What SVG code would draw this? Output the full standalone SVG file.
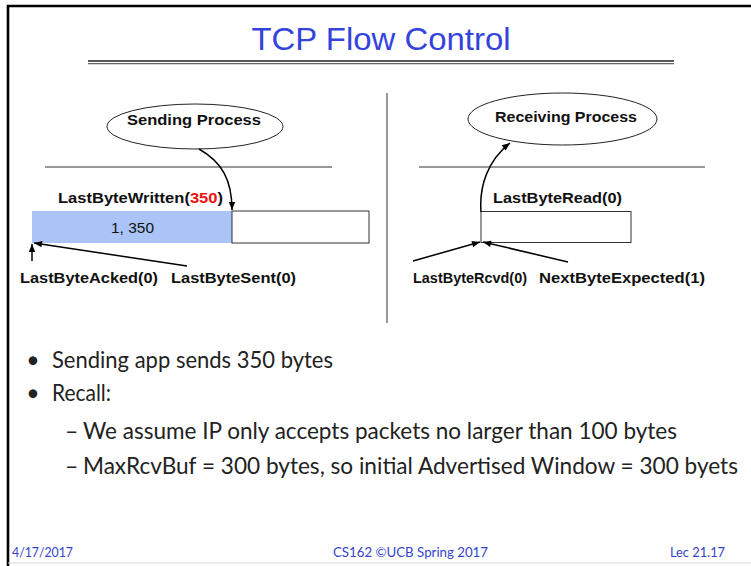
<svg xmlns="http://www.w3.org/2000/svg" width="751" height="566" viewBox="0 0 751 566">
  <defs>
    <marker id="ah" viewBox="0 0 10 10" refX="10" refY="5" markerWidth="9" markerHeight="8" orient="auto" markerUnits="userSpaceOnUse">
      <path d="M0,1 L10,5 L0,9 z" fill="#000"/>
    </marker>
    <style>
      .lbl { font-family: "Liberation Sans", Arial, sans-serif; font-weight: bold; font-size: 15px; fill: #111; }
      .proc { font-family: "Liberation Sans", Arial, sans-serif; font-weight: bold; font-size: 15px; fill: #111; text-anchor: middle; }
      .body { font-family: Lato, "Open Sans", sans-serif; font-size: 23px; fill: #222; }
      .foot { font-family: Lato, "Open Sans", sans-serif; font-size: 14px; fill: #3344cc; }
      .rule { stroke: #333; stroke-width: 1; fill: none; }
      .ell { fill: #fff; stroke: #222; stroke-width: 1; }
      .conn { stroke: #000; stroke-width: 1.5; fill: none; marker-end: url(#ah); }
    </style>
  </defs>

  <rect x="0" y="0" width="751" height="566" fill="#fff"/>
  <!-- slide frame -->
  <path d="M8,566 V6 H751" fill="none" stroke="#000" stroke-width="2.6"/>
  <line x1="8" y1="563" x2="751" y2="563" stroke="#d8d8d8" stroke-width="1"/>

  <g id="title">
    <text x="381" y="50" text-anchor="middle" font-family="Liberation Sans, Arial, sans-serif" font-size="32" fill="#3344dd" textLength="259" lengthAdjust="spacingAndGlyphs">TCP Flow Control</text>
    <line x1="88" y1="61" x2="674" y2="61" stroke="#222" stroke-width="1.6"/>
    <line x1="88" y1="63.6" x2="674" y2="63.6" stroke="#666" stroke-width="1.2"/>
  </g>

  <g id="divider">
    <line x1="387" y1="93" x2="387" y2="323" stroke="#333" stroke-width="1"/>
  </g>

  <!-- sender side -->
  <g id="sending-process">
    <ellipse class="ell" cx="195" cy="126.5" rx="88" ry="22.5"/>
    <text class="proc" x="194" y="125" textLength="134" lengthAdjust="spacingAndGlyphs">Sending Process</text>
  </g>
  <g id="sender-line">
    <line class="rule" x1="45" y1="167" x2="332" y2="167"/>
  </g>
  <g id="send-buffer">
    <rect x="32" y="211" width="200" height="32" fill="#aac4f7"/>
    <rect x="232" y="211" width="137" height="32" fill="#fff" stroke="#333" stroke-width="1"/>
    <text x="132.5" y="233" text-anchor="middle" font-family="Liberation Sans, Arial, sans-serif" font-size="15" fill="#111" textLength="43" lengthAdjust="spacingAndGlyphs">1, 350</text>
  </g>
  <g id="label-lastbytewritten">
    <text class="lbl" x="58" y="203" textLength="165" lengthAdjust="spacingAndGlyphs">LastByteWritten(<tspan fill="#ee1111">350</tspan>)</text>
  </g>
  <g id="label-lastbyteacked">
    <text class="lbl" x="20" y="283" textLength="138" lengthAdjust="spacingAndGlyphs">LastByteAcked(0)</text>
  </g>
  <g id="label-lastbytesent">
    <text class="lbl" x="171" y="283" textLength="125" lengthAdjust="spacingAndGlyphs">LastByteSent(0)</text>
  </g>

  <!-- receiver side -->
  <g id="receiving-process">
    <ellipse class="ell" cx="562.5" cy="119" rx="94.5" ry="26"/>
    <text class="proc" x="566" y="122" textLength="142" lengthAdjust="spacingAndGlyphs">Receiving Process</text>
  </g>
  <g id="receiver-line">
    <line class="rule" x1="419" y1="167" x2="705" y2="167"/>
  </g>
  <g id="recv-buffer">
    <rect x="481" y="211.5" width="150" height="31" fill="#fff" stroke="#333" stroke-width="1"/>
  </g>
  <g id="label-lastbyteread">
    <text class="lbl" x="493" y="203" textLength="129" lengthAdjust="spacingAndGlyphs">LastByteRead(0)</text>
  </g>
  <g id="label-lastbytercvd">
    <text class="lbl" x="413" y="283" textLength="114" lengthAdjust="spacingAndGlyphs">LastByteRcvd(0)</text>
  </g>
  <g id="label-nextbyteexpected">
    <text class="lbl" x="539" y="283" textLength="166" lengthAdjust="spacingAndGlyphs">NextByteExpected(1)</text>
  </g>

  <!-- connectors -->
  <g id="connectors">
    <path class="conn" d="M199,149 C222,162 232,180 232,210"/>
    <path class="conn" d="M32,261 L32,244"/>
    <path class="conn" d="M187,266 L34,243"/>
    <path class="conn" d="M481,212 C479,186 488,160 510,143"/>
    <path class="conn" d="M413,261 L480,242"/>
    <path class="conn" d="M568,262 L483,242"/>
  </g>

  <!-- bullets -->
  <g id="bullets">
    <text class="body" x="33" y="368" text-anchor="middle">•</text>
    <text class="body" x="52" y="368" textLength="281" lengthAdjust="spacingAndGlyphs">Sending app sends 350 bytes</text>
    <text class="body" x="33" y="401" text-anchor="middle">•</text>
    <text class="body" x="52" y="401" textLength="59" lengthAdjust="spacingAndGlyphs">Recall:</text>
    <text class="body" x="65" y="439">–</text>
    <text class="body" x="83" y="439" textLength="594" lengthAdjust="spacingAndGlyphs">We assume IP only accepts packets no larger than 100 bytes</text>
    <text class="body" x="65" y="474">–</text>
    <text class="body" x="83" y="474" textLength="655" lengthAdjust="spacingAndGlyphs">MaxRcvBuf = 300 bytes, so initial Advertised Window = 300 byets</text>
  </g>

  <!-- footer -->
  <g id="footer">
    <text class="foot" x="12" y="557" textLength="61" lengthAdjust="spacingAndGlyphs">4/17/2017</text>
    <text class="foot" x="333" y="557" textLength="155" lengthAdjust="spacingAndGlyphs">CS162 ©UCB Spring 2017</text>
    <text class="foot" x="670" y="557" textLength="55" lengthAdjust="spacingAndGlyphs">Lec 21.17</text>
  </g>
</svg>
